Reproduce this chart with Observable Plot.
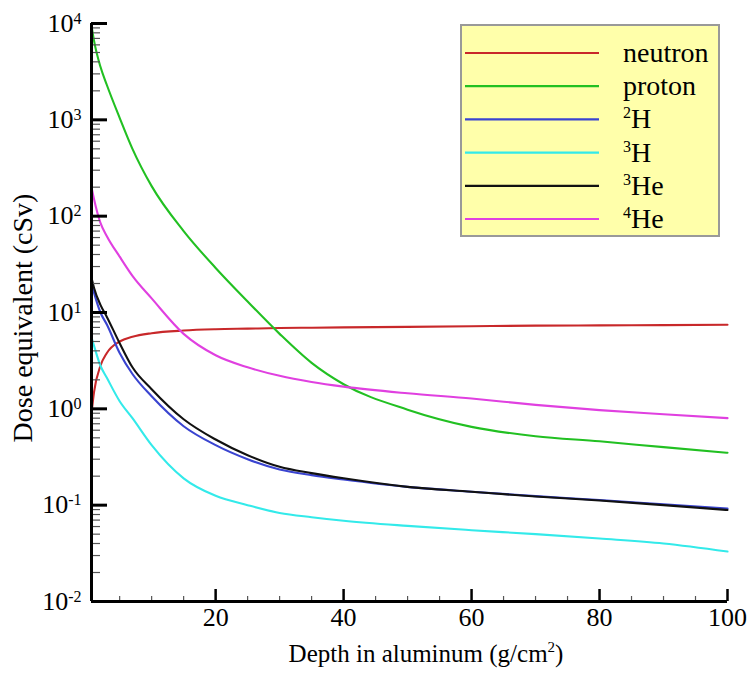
<!DOCTYPE html>
<html>
<head>
<meta charset="utf-8">
<script src="https://cdn.jsdelivr.net/npm/d3@7"></script>
<script src="https://cdn.jsdelivr.net/npm/@observablehq/plot@0.6"></script>
<style>
  html, body { margin: 0; padding: 0; background: white; }
  #chart { position: relative; width: 751px; height: 678px; }
  #chart svg text { font-family: "Liberation Serif", "Times New Roman", serif; }
</style>
</head>
<body>
<div id="chart"></div>
<script>
// ---- data ----
const depth = [0.6, 1, 2, 3, 5, 7, 10, 15, 20, 25, 30, 35, 40, 50, 60, 70, 80, 90, 100];
const neutron = [0.9, 1.5, 2.8, 3.8, 5.0, 5.6, 6.1, 6.5, 6.7, 6.8, 6.9, 6.95, 7.0, 7.1, 7.2, 7.3, 7.35, 7.4, 7.45];
const proton  = [9500, 6600, 3550, 2300, 1050, 500, 205, 70, 29, 13, 6.0, 3.0, 1.8, 0.98, 0.65, 0.52, 0.46, 0.40, 0.35];
const h2      = [20, 16, 10, 7.5, 3.8, 2.3, 1.35, 0.66, 0.42, 0.30, 0.235, 0.205, 0.185, 0.155, 0.138, 0.124, 0.113, 0.102, 0.092];
const h3      = [5.5, 4.5, 2.8, 2.1, 1.2, 0.8, 0.42, 0.19, 0.125, 0.1, 0.083, 0.075, 0.069, 0.061, 0.055, 0.05, 0.045, 0.04, 0.033];
const he3     = [23, 18, 12, 9, 4.8, 2.7, 1.6, 0.78, 0.48, 0.33, 0.25, 0.215, 0.19, 0.155, 0.138, 0.123, 0.112, 0.1, 0.089];
const he4     = [200, 150, 85, 62, 38, 24, 14, 6.0, 3.6, 2.7, 2.2, 1.9, 1.7, 1.45, 1.28, 1.1, 0.97, 0.88, 0.8];

const seriesNames = ["neutron", "proton", "2H", "3H", "3He", "4He"];
const seriesValues = [neutron, proton, h2, h3, he3, he4];
const seriesColors = ["#c8282a", "#22c022", "#3a44d0", "#33eaea", "#111111", "#e040e0"];
const legendLabels = [["", "neutron"], ["", "proton"], ["2", "H"], ["3", "H"], ["3", "He"], ["4", "He"]];

const yMajor = [1e-2, 1e-1, 1e0, 1e1, 1e2, 1e3, 1e4];
const yExp = ["-2", "-1", "0", "1", "2", "3", "4"];
const yMinor = [];
for (let e = -2; e < 4; e++) for (let m = 2; m <= 9; m++) yMinor.push(m * Math.pow(10, e));
const xMajor = [20, 40, 60, 80, 100];
const xMinor = [5, 10, 15, 25, 30, 35, 45, 50, 55, 65, 70, 75, 85, 90, 95];
const xDomain = [0.6, 100];
const yDomain = [0.01, 10000];

const rows = [];
seriesNames.forEach((s, i) => depth.forEach((d, j) => rows.push({series: s, depth: d, value: seriesValues[i][j]})));

const font = "'Liberation Serif', 'Times New Roman', serif";

const chart = Plot.plot({
  width: 751,
  height: 678,
  marginLeft: 91,
  marginRight: 24,
  marginTop: 23,
  marginBottom: 77,
  style: {fontFamily: font, background: "white", color: "black", overflow: "visible"},
  x: {domain: xDomain, axis: null},
  y: {type: "log", domain: yDomain, axis: null},
  color: {domain: seriesNames, range: seriesColors},
  marks: [
    Plot.line(rows, {x: "depth", y: "value", z: "series", stroke: "series", strokeWidth: 2.1, curve: "monotone-x"}),
    // y axis ticks
    Plot.axisY({ticks: yMinor, tickSize: -9, strokeWidth: 1.2, stroke: "#555", tickFormat: () => "", label: null}),
    Plot.axisY({ticks: yMajor, tickSize: -16, strokeWidth: 3, tickFormat: () => "", label: null}),
    Plot.axisY({ticks: yMajor, tickSize: 0, tickPadding: 10, fontSize: 26,
      tickFormat: d => "10^" + yExp[yMajor.indexOf(d)], label: null}),
    // x axis ticks
    Plot.axisX({ticks: xMinor, tickSize: -5, strokeWidth: 1.2, stroke: "#555", tickFormat: () => "", label: null}),
    Plot.axisX({ticks: xMajor, tickSize: -12, strokeWidth: 2.5, tickFormat: () => "", label: null}),
    Plot.axisX({ticks: xMajor, tickSize: 0, tickPadding: 6, fontSize: 26,
      tickFormat: d => String(d), label: null}),
    // axis lines
    Plot.ruleX([xDomain[0]], {strokeWidth: 3}),
    Plot.ruleY([yDomain[0]], {strokeWidth: 3})
  ]
});

document.getElementById("chart").appendChild(chart);
const svg = d3.select(chart);

// superscripts on y tick labels
svg.selectAll('g[aria-label="y-axis tick label"] text').each(function () {
  const t = this.textContent;
  const parts = t.split("^");
  const s = d3.select(this);
  s.text(parts[0]);
  s.append("tspan").attr("dy", "-0.5em").attr("font-size", 16).text(parts[1]);
});

// axis titles
const xt = svg.append("text")
  .attr("x", 426).attr("y", 662)
  .attr("text-anchor", "middle")
  .attr("font-size", 25).attr("fill", "black");
xt.append("tspan").text("Depth in aluminum (g/cm");
xt.append("tspan").attr("font-size", 15).attr("dy", -10).text("2");
xt.append("tspan").attr("dy", 10).text(")");

svg.append("text")
  .attr("transform", "translate(32,318) rotate(-90)")
  .attr("text-anchor", "middle")
  .attr("font-size", 28).attr("fill", "black")
  .text("Dose equivalent (cSv)");

// legend
const lg = svg.append("g").attr("aria-label", "legend");
lg.append("rect").attr("x", 461).attr("y", 25).attr("width", 258).attr("height", 211)
  .attr("fill", "#ffffaa").attr("stroke", "#999").attr("stroke-width", 2);
seriesNames.forEach((s, i) => {
  const cy = 53 + i * 33.2;
  lg.append("line").attr("x1", 465).attr("x2", 599).attr("y1", cy).attr("y2", cy)
    .attr("stroke", seriesColors[i]).attr("stroke-width", 2.2);
  const t = lg.append("text").attr("x", 623).attr("y", cy + 9)
    .attr("text-anchor", "start")
    .attr("font-size", 28).attr("fill", "black");
  const [sup, main] = legendLabels[i];
  if (sup) {
    t.append("tspan").attr("font-size", 16).attr("dy", -10).text(sup);
    t.append("tspan").attr("dy", 10).text(main);
  } else {
    t.append("tspan").text(main);
  }
});
</script>
</body>
</html>
